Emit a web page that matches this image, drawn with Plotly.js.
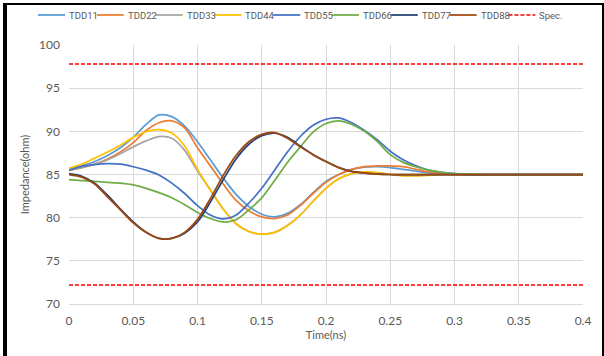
<!DOCTYPE html>
<html>
<head>
<meta charset="utf-8">
<script src="https://cdn.plot.ly/plotly-3.0.1.min.js"></script>
<style>
html,body{margin:0;padding:0;background:#fff;}
#wrap{position:relative;width:604px;height:356px;overflow:hidden;}
#chart{width:604px;height:356px;}
#frame{position:absolute;left:3px;top:3px;width:595px;height:400px;border-left:4px solid #000;border-top:2px solid #000;border-right:2px solid #000;pointer-events:none;}
</style>
</head>
<body>
<div id="wrap"><div id="chart"></div><div id="frame"></div></div>
<script>
// Time axis (ns)
const time = [0,0.01,0.02,0.03,0.04,0.05,0.06,0.07,0.08,0.09,0.10,0.11,0.12,0.13,0.14,0.15,0.16,0.17,0.18,0.19,0.20,0.21,0.22,0.23,0.24,0.25,0.26,0.27,0.28,0.29,0.30,0.31,0.32,0.33,0.34,0.35,0.36,0.37,0.38,0.39,0.40];

const tdd11 = [85.6,86.0,86.5,87.2,88.1,89.3,90.8,91.9,91.7,90.6,88.8,86.7,84.6,82.7,81.3,80.4,80.1,80.5,81.5,82.9,84.2,85.0,85.6,85.85,85.9,85.8,85.6,85.4,85.2,85.1,85.0,85.0,85.0,85.0,85.0,85.0,85.0,85.0,85.0,85.0,85.0];
const tdd22 = [85.5,85.8,86.2,86.8,87.6,88.7,90.1,91.0,91.2,90.4,88.1,86.0,83.9,82.0,80.8,80.1,79.9,80.3,81.4,82.8,84.1,85.0,85.6,85.9,86.0,86.0,85.9,85.6,85.3,85.1,85.0,85.0,85.0,85.0,85.0,85.0,85.0,85.0,85.0,85.0,85.0];
const tdd33 = [85.5,85.8,86.2,86.7,87.4,88.2,88.9,89.4,89.2,87.8,85.4,83.2,81.0,79.3,78.4,78.1,78.3,79.1,80.3,81.9,83.4,84.5,85.1,85.3,85.2,85.0,84.9,84.9,84.95,85.0,85.0,85.0,85.0,85.0,85.0,85.0,85.0,85.0,85.0,85.0,85.0];
const tdd44 = [85.7,86.2,86.9,87.6,88.4,89.3,89.95,90.2,89.8,88.3,85.6,83.2,81.0,79.3,78.4,78.1,78.3,79.1,80.3,81.9,83.4,84.5,85.1,85.3,85.2,85.0,84.85,84.85,84.9,85.0,85.0,85.0,85.0,85.0,85.0,85.0,85.0,85.0,85.0,85.0,85.0];
const tdd55 = [85.5,85.95,86.15,86.25,86.2,85.9,85.5,84.95,84.0,82.8,81.4,80.3,79.85,80.3,81.7,83.4,85.5,87.6,89.4,90.7,91.4,91.55,91.0,90.1,89.0,87.7,86.7,86.0,85.5,85.25,85.1,85.0,85.0,85.0,85.0,85.0,85.0,85.0,85.0,85.0,85.0];
const tdd66 = [84.4,84.3,84.2,84.1,84.0,83.8,83.4,82.9,82.3,81.5,80.6,79.9,79.5,79.75,80.9,82.3,84.3,86.4,88.2,89.9,90.9,91.2,90.8,90.0,88.8,87.3,86.4,85.9,85.5,85.25,85.1,85.05,85.0,85.0,85.0,85.0,85.0,85.0,85.0,85.0,85.0];
const tdd77 = [85.1,84.8,84.0,82.6,81.0,79.5,78.3,77.6,77.6,78.2,79.5,81.8,84.4,86.8,88.5,89.5,89.8,89.3,88.3,87.3,86.5,85.8,85.35,85.15,85.05,85.0,85.0,85.0,85.0,85.0,85.0,85.0,85.0,85.0,85.0,85.0,85.0,85.0,85.0,85.0,85.0];
const tdd88 = [85.0,84.7,83.9,82.4,80.9,79.4,78.3,77.6,77.6,78.3,79.8,82.2,84.9,87.2,88.8,89.65,89.85,89.2,88.2,87.3,86.5,85.8,85.35,85.15,85.05,85.0,85.0,85.0,85.0,85.0,85.0,85.0,85.0,85.0,85.0,85.0,85.0,85.0,85.0,85.0,85.0];

const specTime = [0, 0.4];
const specUpper = [97.8, 97.8];
const specLower = [72.2, 72.2];

const seriesNames = ['TDD11','TDD22','TDD33','TDD44','TDD55','TDD66','TDD77','TDD88'];
const seriesData = [tdd11, tdd22, tdd33, tdd44, tdd55, tdd66, tdd77, tdd88];
const seriesColors = ['#5B9BD5','#ED7D31','#A5A5A5','#FFC000','#4472C4','#70AD47','#264478','#9E480E'];
const specName = 'Spec.';
const specColor = '#FF0000';

const xTicks = [0,0.05,0.1,0.15,0.2,0.25,0.3,0.35,0.4];
const xTickText = ['0','0.05','0.1','0.15','0.2','0.25','0.3','0.35','0.4'];
const yTicks = [70,75,80,85,90,95,100];

const LINE_W = 1.75;
const SPEC_DASH = '4px,2px';

const traces = seriesNames.map((n,i)=>({
  x: time, y: seriesData[i], name: n, type:'scatter', mode:'lines', showlegend:false,
  line:{color: seriesColors[i], width:LINE_W, shape:'spline', smoothing:0.8}
}));
traces.push({x: specTime, y: specUpper, name:specName, type:'scatter', mode:'lines', showlegend:false,
  line:{color:specColor, width:1.5, dash:SPEC_DASH}});
traces.push({x: specTime, y: specLower, name:specName, type:'scatter', mode:'lines', showlegend:false,
  line:{color:specColor, width:1.5, dash:SPEC_DASH}});

// Legend drawn as a single row above the plot (layout geometry in pixels)
const M = {l:69, r:21, t:45, b:52};
const W = 604, H = 356;
const pw = W - M.l - M.r, ph = H - M.t - M.b;
const px2x = p => (p - M.l) / pw;
const py2y = p => (H - M.b - p) / ph;
const legNames = seriesNames.concat([specName]);
const legColors = seriesColors.concat([specColor]);
const legStart = 38, legPitch = 58.8, legLine = 27, legGap = 3, legY = 15;
const font = 'Roboto, Lato, sans-serif';
const tickFont = 'Lato, "Open Sans", sans-serif';
const shapes = [], annotations = [];
legNames.forEach((n,i)=>{
  const x0 = legStart + i*legPitch;
  const isSpec = (i === legNames.length-1);
  shapes.push({type:'line', xref:'paper', yref:'paper', x0:px2x(x0), x1:px2x(x0+legLine), y0:py2y(legY), y1:py2y(legY),
    line:{color:legColors[i], width:isSpec?1.5:LINE_W, dash:isSpec?SPEC_DASH:'solid'}});
  annotations.push({xref:'paper', yref:'paper', x:px2x(x0+legLine+legGap), y:py2y(legY), xanchor:'left', yanchor:'middle',
    text:n, showarrow:false, borderpad:0, font:{family:font, size:9.5, color:'#595959'}});
});

const layout = {
  width:W, height:H,
  margin:M,
  paper_bgcolor:'#ffffff', plot_bgcolor:'#ffffff',
  font:{family:tickFont, size:12, color:'#595959'},
  showlegend:false,
  shapes:shapes, annotations:annotations,
  xaxis:{range:[0,0.4], tickvals:xTicks, ticktext:xTickText, showgrid:true, gridcolor:'#D9D9D9', gridwidth:1,
    zeroline:false, showline:true, linecolor:'#D9D9D9', linewidth:1, ticks:'', ticklabelstandoff:6,
    tickfont:{family:tickFont, size:12, color:'#595959'},
    title:{text:'Time(ns)', font:{family:tickFont, size:11, color:'#595959'}, standoff:2}},
  yaxis:{range:[70,100], tickvals:yTicks, showgrid:true, gridcolor:'#D9D9D9', gridwidth:1,
    zeroline:false, showline:false, ticks:'', ticklabelstandoff:8,
    tickfont:{family:tickFont, size:12, color:'#595959'},
    title:{text:'Impedance(ohm)', font:{family:tickFont, size:11, color:'#595959'}, standoff:7}}
};
Plotly.newPlot('chart', traces, layout, {displayModeBar:false, staticPlot:true});
</script>
</body>
</html>
